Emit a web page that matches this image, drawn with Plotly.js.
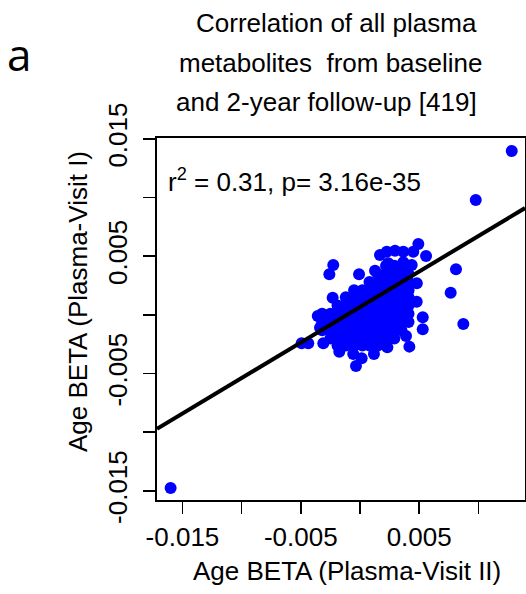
<!DOCTYPE html>
<html>
<head>
<meta charset="utf-8">
<script src="https://cdn.plot.ly/plotly-3.0.1.min.js"></script>
<style>
  html, body { margin: 0; padding: 0; background: #ffffff; }
  #chart { width: 526px; height: 594px; }
</style>
</head>
<body>
<div id="chart"></div>
<script>
// Age BETA values: x = Plasma-Visit II, y = Plasma-Visit I
const visit2Beta = [
  -0.0160, 0.01282, 0.00978, 0.00811, 0.00766, 0.00873, 0.00493, 0.00558,
  0.00169, 0.00226, 0.00296, 0.00366, 0.00450, -0.00226, -0.00259, -0.00008,
  0.00127, 0.00239, 0.00366, 0.00437, -0.00231, 0.00479, -0.00357, 0.00530,
  0.00530, -0.00493, -0.00437, -0.00310, -0.00175, -0.00057, 0.00014, -0.00034,
  0.00118, 0.00231, 0.00417, 0.00389, 0.00480, -0.00338,
  0.0022, 0.0029, 0.0035, 0.0041,
  0.0015, 0.0022, 0.0029, 0.0035, 0.0041,
  0.0008, 0.0015, 0.0022, 0.0029, 0.0035, 0.0041,
  -0.0005, 0.0002, 0.0008, 0.0015, 0.0022, 0.0029, 0.0035, 0.0041,
  -0.0012, -0.0005, 0.0002, 0.0008, 0.0015, 0.0022, 0.0029, 0.0035, 0.0041,
  -0.0019, -0.0012, -0.0005, 0.0002, 0.0008, 0.0015, 0.0022, 0.0029, 0.0035, 0.0041,
  -0.0032, -0.0025, -0.0019, -0.0012, -0.0005, 0.0002, 0.0008, 0.0015, 0.0022, 0.0029, 0.0035, 0.0041,
  -0.0032, -0.0025, -0.0019, -0.0012, -0.0005, 0.0002, 0.0008, 0.0015, 0.0022, 0.0029, 0.0035, 0.0041,
  -0.0032, -0.0025, -0.0019, -0.0012, -0.0005, 0.0002, 0.0008, 0.0015, 0.0022, 0.0029, 0.0035,
  -0.0025, -0.0019, -0.0012, -0.0005, 0.0002, 0.0008, 0.0015, 0.0022, 0.0029,
  -0.0019, -0.0012, -0.0005, 0.0002, 0.0008, 0.0015, 0.0022
];
const visit1Beta = [
  -0.01474, 0.01397, 0.00980, 0.00389, 0.00190, -0.00077, 0.00605, 0.00503,
  0.00511, 0.00539, 0.00548, 0.00539, 0.00539, 0.00426, 0.00347, 0.00347,
  0.00377, 0.00440, 0.00449, 0.00426, 0.00147, 0.00113, -0.00009, -0.00020,
  -0.00122, -0.00241, -0.00241, -0.00241, -0.00313, -0.00332, -0.00369, -0.00435,
  -0.00332, -0.00275, -0.00270, -0.00179, 0.00270, -0.00110,
  0.0042, 0.0042, 0.0042, 0.0042,
  0.0035, 0.0035, 0.0035, 0.0035, 0.0035,
  0.0028, 0.0028, 0.0028, 0.0028, 0.0028, 0.0028,
  0.0021, 0.0021, 0.0021, 0.0021, 0.0021, 0.0021, 0.0021, 0.0021,
  0.0015, 0.0015, 0.0015, 0.0015, 0.0015, 0.0015, 0.0015, 0.0015, 0.0015,
  0.0008, 0.0008, 0.0008, 0.0008, 0.0008, 0.0008, 0.0008, 0.0008, 0.0008, 0.0008,
  0.0001, 0.0001, 0.0001, 0.0001, 0.0001, 0.0001, 0.0001, 0.0001, 0.0001, 0.0001, 0.0001, 0.0001,
  -0.0006, -0.0006, -0.0006, -0.0006, -0.0006, -0.0006, -0.0006, -0.0006, -0.0006, -0.0006, -0.0006, -0.0006,
  -0.0013, -0.0013, -0.0013, -0.0013, -0.0013, -0.0013, -0.0013, -0.0013, -0.0013, -0.0013, -0.0013,
  -0.0020, -0.0020, -0.0020, -0.0020, -0.0020, -0.0020, -0.0020, -0.0020, -0.0020,
  -0.0026, -0.0026, -0.0026, -0.0026, -0.0026, -0.0026, -0.0026
];
// Fitted regression line (end points at the plot edges)
const fitX = [-0.01715, 0.01394];
const fitY = [-0.00970, 0.00911];

// Labelled ticks and all tick marks
const xLabelVals = [-0.015, -0.005, 0.005];
const xLabelText = ['-0.015', '-0.005', '0.005'];
const xMarkVals = [-0.015, -0.01, -0.005, 0, 0.005, 0.01];
const yLabelVals = [-0.015, -0.005, 0.005, 0.015];
const yLabelText = ['-0.015', '-0.005', '0.005', '0.015'];
const yMarkVals = [-0.015, -0.01, -0.005, 0, 0.005, 0.01, 0.015];

const titleLines = ['Correlation of all plasma', 'metabolites&nbsp; from baseline', 'and 2-year follow-up [419]'];
const statText = 'r<sup>2</sup> = 0.31, p= 3.16e-35';
const xTitle = 'Age BETA (Plasma-Visit II)';
const yTitle = 'Age BETA (Plasma-Visit I)';
const panelLabel = 'a';

const FONT = 'Liberation Sans, Arial, sans-serif';

const traces = [
  {
    x: visit2Beta, y: visit1Beta, type: 'scatter', mode: 'markers',
    marker: { color: '#0000ff', size: 12, line: { width: 0 } },
    hoverinfo: 'x+y'
  },
  {
    x: fitX, y: fitY, type: 'scatter', mode: 'lines',
    line: { color: '#000000', width: 4 }, hoverinfo: 'skip'
  }
];

const titleX = [336.5, 330, 326.5];
const titleY = [22.6, 63, 102.5];
const L = 157, T = 138, W = 368, H = 362;
const px2x = p => (p - L) / W;
const px2y = p => (T + H - p) / H;

const annotations = titleLines.map((t, i) => ({
  text: t, xref: 'paper', yref: 'paper', x: px2x(titleX[i]), y: px2y(titleY[i]),
  xanchor: 'center', yanchor: 'middle', showarrow: false,
  font: { family: FONT, size: 26, color: '#000' }
}));
annotations.push({
  text: statText, xref: 'paper', yref: 'paper', x: px2x(166), y: px2y(180),
  xanchor: 'left', yanchor: 'middle', showarrow: false,
  font: { family: FONT, size: 26, color: '#000' }
});
annotations.push({
  text: xTitle, xref: 'paper', yref: 'paper', x: px2x(347), y: px2y(571),
  xanchor: 'center', yanchor: 'middle', showarrow: false,
  font: { family: FONT, size: 26, color: '#000' }
});
annotations.push({
  text: yTitle, xref: 'paper', yref: 'paper', x: px2x(78), y: px2y(302),
  xanchor: 'center', yanchor: 'middle', showarrow: false, textangle: -90,
  font: { family: FONT, size: 26, color: '#000' }
});
annotations.push({
  text: panelLabel, xref: 'paper', yref: 'paper', x: px2x(19), y: px2y(54),
  xanchor: 'center', yanchor: 'middle', showarrow: false,
  font: { family: 'Open Sans, sans-serif', size: 44, color: '#000' }
});

const tickStyle = { ticks: 'outside', ticklen: 12, tickwidth: 1.6, tickcolor: '#000' };

const layout = {
  width: 526, height: 594,
  margin: { l: L, r: 526 - L - W, t: T, b: 594 - T - H, pad: 0 },
  paper_bgcolor: '#ffffff', plot_bgcolor: '#ffffff',
  showlegend: false,
  font: { family: FONT, size: 26, color: '#000' },
  xaxis: Object.assign({
    range: [-0.01715, 0.01394], tickmode: 'array', tickvals: xLabelVals, ticktext: xLabelText,
    minor: Object.assign({ tickmode: 'array', tickvals: xMarkVals, showgrid: false }, tickStyle),
    showline: true, mirror: true, linecolor: '#000', linewidth: 1.8,
    showgrid: false, zeroline: false, ticklabelstandoff: 1,
    tickfont: { family: FONT, size: 26, color: '#000' }
  }, tickStyle),
  yaxis: Object.assign({
    range: [-0.01577, 0.01508], tickmode: 'array', tickvals: yLabelVals, ticktext: yLabelText,
    minor: Object.assign({ tickmode: 'array', tickvals: yMarkVals, showgrid: false }, tickStyle),
    showline: true, mirror: true, linecolor: '#000', linewidth: 1.8,
    showgrid: false, zeroline: false, tickangle: -90, ticklabelstandoff: 6,
    tickfont: { family: FONT, size: 26, color: '#000' }
  }, tickStyle),
  annotations: annotations
};

Plotly.newPlot('chart', traces, layout, { displayModeBar: false, staticPlot: true });
</script>
</body>
</html>
